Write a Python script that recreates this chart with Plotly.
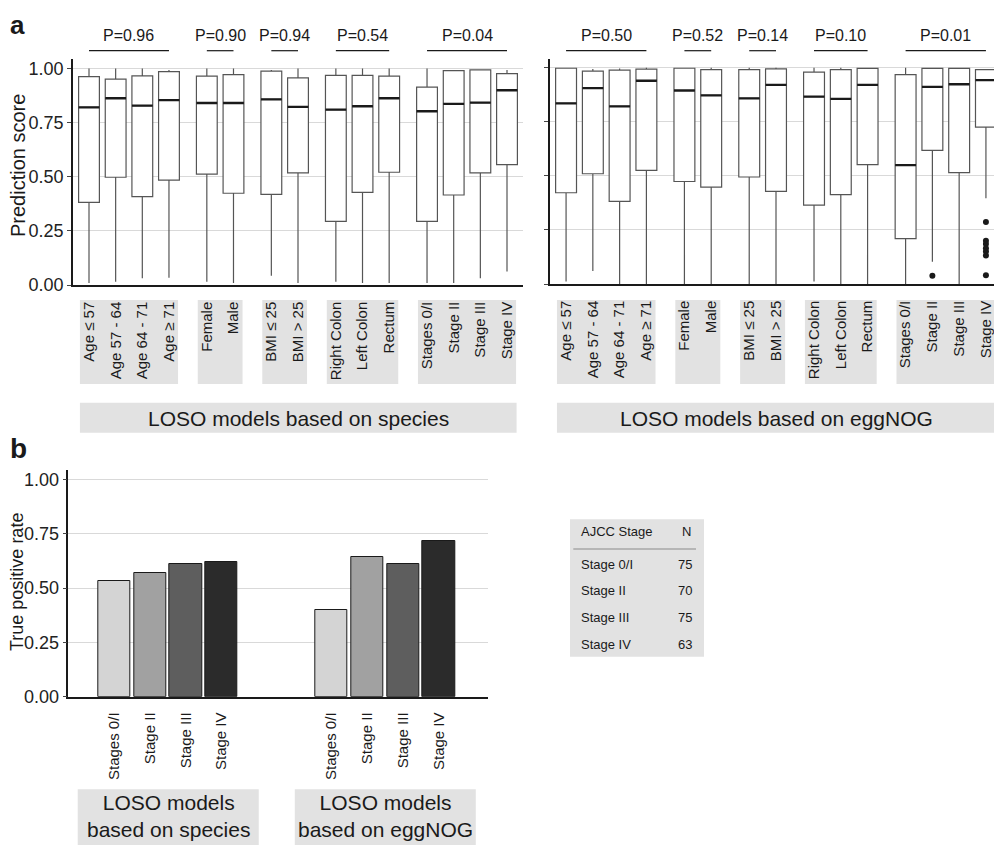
import plotly.graph_objects as go

# ---- data ----
labels = ["Age ≤ 57", "Age 57 - 64", "Age 64 - 71", "Age ≥ 71", "Female", "Male",
          "BMI ≤ 25", "BMI > 25", "Right Colon", "Left Colon", "Rectum",
          "Stages 0/I", "Stage II", "Stage III", "Stage IV"]
group_sizes = [4, 2, 2, 3, 4]

sp_q1 = [0.382, 0.498, 0.408, 0.485, 0.512, 0.424, 0.419, 0.518, 0.294, 0.428, 0.521, 0.294, 0.416, 0.518, 0.556]
sp_med = [0.821, 0.863, 0.829, 0.854, 0.841, 0.841, 0.858, 0.823, 0.810, 0.826, 0.863, 0.803, 0.837, 0.843, 0.900]
sp_q3 = [0.963, 0.951, 0.966, 0.986, 0.965, 0.972, 0.988, 0.957, 0.969, 0.969, 0.965, 0.914, 0.991, 0.994, 0.977]
sp_lo = [0.009, 0.015, 0.031, 0.034, 0.015, 0.009, 0.043, 0.009, 0.015, 0.009, 0.009, 0.009, 0.009, 0.031, 0.062]
sp_hi = [1.0, 1.0, 1.0, 0.994, 1.0, 1.0, 0.994, 1.0, 1.0, 1.0, 1.0, 1.0, 0.994, 0.997, 0.994]
sp_p = ["0.96", "0.90", "0.94", "0.54", "0.04"]

eg_q1 = [0.422, 0.510, 0.382, 0.526, 0.474, 0.448, 0.495, 0.428, 0.365, 0.413, 0.552, 0.210, 0.618, 0.515, 0.726]
eg_med = [0.835, 0.906, 0.822, 0.940, 0.895, 0.872, 0.859, 0.921, 0.867, 0.856, 0.921, 0.550, 0.912, 0.924, 0.943]
eg_q3 = [0.998, 0.985, 0.989, 0.994, 0.998, 0.992, 0.992, 0.995, 0.980, 0.992, 0.997, 0.968, 0.997, 0.997, 0.992]
eg_lo = [0.011, 0.060, 0.0, 0.0, 0.0, 0.0, 0.0, 0.0, 0.011, 0.0, 0.0, 0.0, 0.103, 0.0, 0.397]
eg_hi = [1.0, 0.994, 0.997, 1.0, 1.0, 1.0, 1.0, 1.0, 1.0, 1.0, 1.0, 1.0, 1.0, 1.0, 0.994]
eg_p = ["0.50", "0.52", "0.14", "0.10", "0.01"]
eg_out_label = ["Stage II", "Stage IV", "Stage IV", "Stage IV", "Stage IV", "Stage IV", "Stage IV", "Stage IV"]
eg_out_val = [0.038, 0.287, 0.200, 0.185, 0.165, 0.150, 0.132, 0.040]

stages = ["Stages 0/I", "Stage II", "Stage III", "Stage IV"]
tpr_species = [0.534, 0.571, 0.612, 0.618]
tpr_eggnog = [0.400, 0.643, 0.612, 0.715]
stage_colors = ["#d4d4d4", "#a1a1a1", "#5e5e5e", "#2b2b2b"]

table_stage = ["Stage 0/I", "Stage II", "Stage III", "Stage IV"]
table_n = [75, 70, 75, 63]

FONT = "Liberation Sans, Arial, sans-serif"
INK = "#1a1a1a"
GRID = "#d9d9d9"
STRIP = "#e2e2e2"
OFF = 8  # default body margin of the page
W, H = 1002 - OFF, 845 - OFF


def py(px):  # page pixel row -> paper y
    return 1 - (px - OFF) / H


def px_(px):  # page pixel column -> paper x
    return (px - OFF) / W


# box positions with gaps between groups
gap = 1.42
pos = []
groups = []
x = 0.0
for n in group_sizes:
    g = []
    for i in range(n):
        pos.append(x)
        g.append(x)
        x += 1
    groups.append(g)
    x += gap - 1
bw = 0.78

fig = go.Figure()
shapes = []
annots = []

panels = [
    ("x", "y", sp_q1, sp_med, sp_q3, sp_lo, sp_hi, sp_p, "LOSO models based on species"),
    ("x2", "y2", eg_q1, eg_med, eg_q3, eg_lo, eg_hi, eg_p, "LOSO models based on eggNOG"),
]
for xa, ya, q1, med, q3, lo, hi, pv, title in panels:
    fig.add_trace(go.Box(x=pos, q1=q1, median=med, q3=q3, lowerfence=lo, upperfence=hi,
                         width=bw, fillcolor="white", whiskerwidth=0, boxpoints=False,
                         line=dict(color="#555555", width=1.2), xaxis=xa, yaxis=ya,
                         showlegend=False, hoverinfo="skip"))
    mx, my = [], []
    for p, m in zip(pos, med):
        mx += [p - bw / 2, p + bw / 2, None]
        my += [m, m, None]
    fig.add_trace(go.Scatter(x=mx, y=my, mode="lines", line=dict(color=INK, width=2.3),
                             xaxis=xa, yaxis=ya, showlegend=False, hoverinfo="skip"))
    # strips behind category labels, p-value brackets
    for g, p in zip(groups, pv):
        shapes.append(dict(type="rect", xref=xa, yref="paper", x0=g[0] - 0.34, x1=g[-1] + 0.34,
                           y0=py(384), y1=py(300), fillcolor=STRIP, line_width=0, layer="below"))
        shapes.append(dict(type="line", xref=xa, yref="paper", x0=g[0], x1=g[-1],
                           y0=py(50.7), y1=py(50.7), line=dict(color=INK, width=1.2)))
        annots.append(dict(text="P=" + p, xref=xa, yref="paper", x=(g[0] + g[-1]) / 2, y=py(35.7),
                           showarrow=False, font=dict(size=16, color=INK),
                           xanchor="center", yanchor="middle"))
    shapes.append(dict(type="rect", xref=xa, yref="paper", x0=pos[0] - 0.34, x1=pos[-1] + 0.36,
                       y0=py(432.7), y1=py(402.7), fillcolor=STRIP, line_width=0, layer="below"))
    annots.append(dict(text=title, xref=xa, yref="paper", x=(pos[0] + pos[-1] + 0.02) / 2, y=py(418),
                       showarrow=False, font=dict(size=21, color=INK), xanchor="center", yanchor="middle"))

# outliers
lab_pos = dict(zip(labels, pos))
fig.add_trace(go.Scatter(x=[lab_pos[l] for l in eg_out_label], y=eg_out_val, mode="markers",
                         marker=dict(color=INK, size=6), xaxis="x2", yaxis="y2",
                         showlegend=False, hoverinfo="skip"))

# panel b bars
grp_step = 6.08
bx, by, bc, bt = [], [], [], []
for gi, vals in enumerate([tpr_species, tpr_eggnog]):
    for si, v in enumerate(vals):
        bx.append(gi * grp_step + si)
        by.append(v)
        bc.append(stage_colors[si])
        bt.append(stages[si])
fig.add_trace(go.Bar(x=bx, y=by, width=0.905, marker=dict(color=bc, line=dict(color=INK, width=1)),
                     xaxis="x3", yaxis="y3", showlegend=False, hoverinfo="skip"))
for gi, name in enumerate(["species", "eggNOG"]):
    x0 = gi * grp_step
    shapes.append(dict(type="rect", xref="x3", yref="paper", x0=x0 - 1.03, x1=x0 + 3 + 1.04,
                       y0=0, y1=py(789.3), fillcolor=STRIP, line_width=0, layer="below"))
    annots.append(dict(text="LOSO models<br>based on " + name, xref="x3", yref="paper", x=x0 + 1.5,
                       y=py(816), showarrow=False, font=dict(size=21, color=INK),
                       xanchor="center", yanchor="middle"))

# table
shapes.append(dict(type="rect", xref="paper", yref="paper", x0=px_(570), x1=px_(704),
                   y0=py(656.7), y1=py(519.3), fillcolor=STRIP, line_width=0, layer="below"))
shapes.append(dict(type="line", xref="paper", yref="paper", x0=px_(573.3), x1=px_(696),
                   y0=py(549), y1=py(549), line=dict(color="#8a8a8a", width=1.2)))
annots.append(dict(text="AJCC Stage", xref="paper", yref="paper", x=px_(579), y=py(531.7),
                   xanchor="left", yanchor="middle", showarrow=False, font=dict(size=13, color=INK)))
annots.append(dict(text="N", xref="paper", yref="paper", x=px_(680), y=py(531.7),
                   xanchor="left", yanchor="middle", showarrow=False, font=dict(size=13, color=INK)))
for i, (s, n) in enumerate(zip(table_stage, table_n)):
    yy = py(564.3 + i * 26.67)
    annots.append(dict(text=s, xref="paper", yref="paper", x=px_(579), y=yy, xanchor="left",
                       yanchor="middle", showarrow=False, font=dict(size=13, color=INK)))
    annots.append(dict(text=str(n), xref="paper", yref="paper", x=px_(693.5), y=yy, xanchor="right",
                       yanchor="middle", showarrow=False, font=dict(size=13, color=INK)))

# panel letters and axis titles
annots.append(dict(text="<b>a</b>", xref="paper", yref="paper", x=0, y=1, xanchor="left",
                   yanchor="top", showarrow=False, font=dict(size=26, color=INK)))
annots.append(dict(text="<b>b</b>", xref="paper", yref="paper", x=0, y=py(448.3), xanchor="left",
                   yanchor="middle", showarrow=False, font=dict(size=28, color=INK)))
annots.append(dict(text="Prediction score", xref="paper", yref="paper", x=0, y=py(166),
                   textangle=-90, showarrow=False, font=dict(size=20, color=INK),
                   xanchor="left", yanchor="middle", xshift=-3))
annots.append(dict(text="True positive rate", xref="paper", yref="paper", x=0, y=py(582),
                   textangle=-90, showarrow=False, font=dict(size=18, color=INK),
                   xanchor="left", yanchor="middle", xshift=-3))

yax = dict(range=[0, 1.043], tickvals=[0, 0.25, 0.5, 0.75, 1.0], tickformat=".2f",
           showgrid=True, gridcolor=GRID, gridwidth=1.2, zeroline=False, automargin=False,
           showline=True, linecolor=INK, linewidth=1.5, ticks="outside", ticklen=4,
           tickcolor="#444444", tickfont=dict(size=18, color="#222222"))
xax = dict(range=[-0.6, 16.28], tickvals=pos, ticktext=labels, tickangle=-90, automargin=False,
           showgrid=False, zeroline=False, showline=True, linecolor=INK, linewidth=1.5,
           ticks="", ticklabelstandoff=9, tickfont=dict(size=15, color=INK))

fig.update_layout(
    width=W, height=H, margin=dict(l=0, r=0, t=0, b=0, autoexpand=False),
    paper_bgcolor="white", plot_bgcolor="white",
    font=dict(family=FONT, color=INK),
    xaxis=dict(xax, domain=[px_(73), px_(523)], anchor="y"),
    yaxis=dict(yax, domain=[py(285), py(59.3)], anchor="x"),
    xaxis2=dict(xax, domain=[px_(550), 1.0], anchor="y2"),
    yaxis2=dict(yax, domain=[py(284), py(58.5)], anchor="x2", showticklabels=False),
    xaxis3=dict(range=[-1.294, 10.47], tickvals=bx, ticktext=bt, tickangle=-90, automargin=False,
                showgrid=False, zeroline=False, showline=True, linecolor=INK, linewidth=1.5,
                ticks="", ticklabelstandoff=8, tickfont=dict(size=15, color=INK),
                domain=[px_(68.3), px_(488.3)], anchor="y3"),
    yaxis3=dict(yax, domain=[py(696.7), py(470)], anchor="x3"),
    shapes=shapes, annotations=annots, bargap=0,
)

fig.write_html("out.html")
